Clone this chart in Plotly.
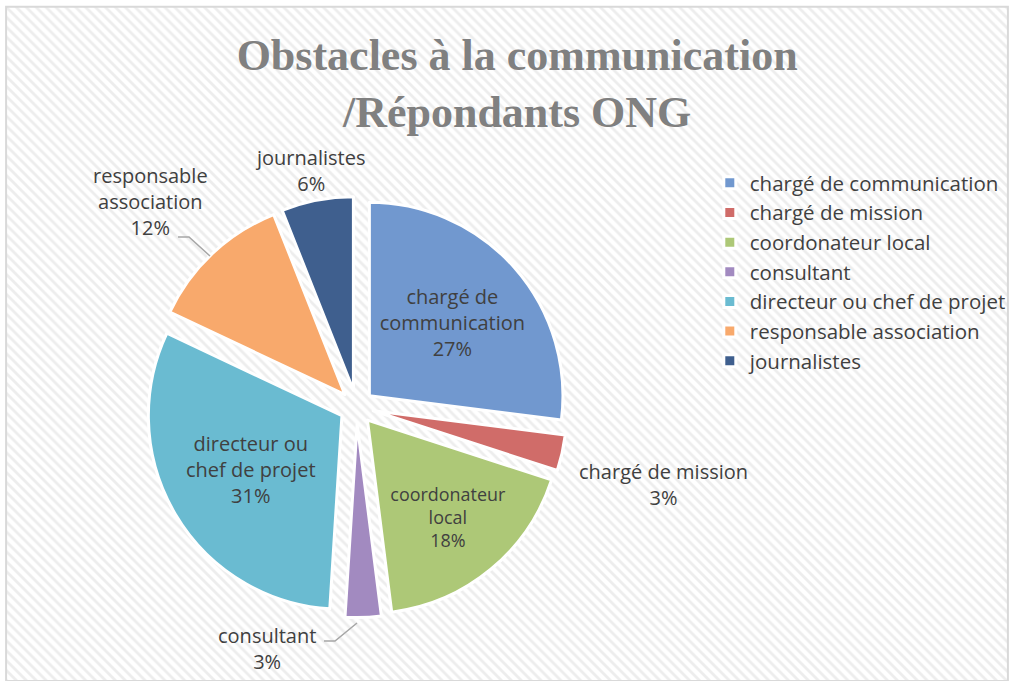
import plotly.graph_objects as go

# ---- data ----
categories = ["chargé de communication", "chargé de mission", "coordonateur local",
              "consultant", "directeur ou chef de projet", "responsable association",
              "journalistes"]
display_labels = ["chargé de<br>communication", "chargé de mission", "coordonateur<br>local",
                  "consultant", "directeur ou<br>chef de projet", "responsable<br>association",
                  "journalistes"]
values = [27, 3, 18, 3, 31, 12, 6]
title_text = "Obstacles à la communication<br>/Répondants ONG"

# ---- styles ----
colors = ["#7198cf", "#d06c69", "#adc877", "#a28ac0", "#6abbd1", "#f8a96c", "#3f5f8e"]
text_positions = ["inside", "none", "inside", "none", "inside", "none", "none"]
# outside label placement (pixels from top-left) for the small slices, like the original
outside_label_px = {1: (663, 484), 3: (267, 648), 5: (150, 201), 6: (310, 171)}
leader_lines_px = [
    [(178, 237), (189, 237), (210, 256)],   # responsable association
    [(324, 641), (335, 641), (357, 623)],   # consultant
]
W, H = 1014, 681
TXT = "#404040"

fig = go.Figure()

# hatched background (decorative)
fig.add_trace(go.Bar(
    x=[0.5], y=[1], width=[1], showlegend=False, hoverinfo="skip",
    marker=dict(color="white", line=dict(width=0),
                pattern=dict(shape="\\", fgcolor="#dcdcdc", bgcolor="white",
                             size=7, solidity=0.4)),
    xaxis="x", yaxis="y"))

cx, cy, half = 356.6, 407.0, 210.6
fig.add_trace(go.Pie(
    labels=categories, values=values, text=display_labels,
    sort=False, direction="clockwise", rotation=0,
    pull=[0.088] * len(values),
    marker=dict(colors=colors, line=dict(color="white", width=3)),
    texttemplate="%{text}<br>%{percent:.0%}",
    textposition=text_positions,
    insidetextorientation="horizontal",
    textfont=dict(family="Open Sans", size=20, color=TXT),
    domain=dict(x=[(cx - half) / W, (cx + half) / W],
                y=[(H - cy - half) / H, (H - cy + half) / H]),
    hoverinfo="label+percent",
))

total = sum(values)
annotations = []
for i, (px, py) in outside_label_px.items():
    pct = round(values[i] / total * 100)
    annotations.append(dict(
        text=f"{display_labels[i]}<br>{pct}%", x=px / W, y=1 - py / H,
        xref="paper", yref="paper", xanchor="center", yanchor="middle",
        showarrow=False, align="center",
        font=dict(family="Open Sans", size=20, color=TXT)))

shapes = [dict(type="rect", xref="paper", yref="paper", x0=0.006, x1=0.994,
               y0=0, y1=0.99, line=dict(color="#d9d9d9", width=2), layer="above")]
for pts in leader_lines_px:
    path = "M " + " L ".join(f"{x / W},{1 - y / H}" for x, y in pts)
    shapes.append(dict(type="path", xref="paper", yref="paper", path=path,
                       line=dict(color="#a6a6a6", width=1.5), layer="above"))

fig.update_layout(
    width=W, height=H,
    margin=dict(l=0, r=0, t=0, b=0, autoexpand=False),
    paper_bgcolor="white", plot_bgcolor="white",
    xaxis=dict(range=[0, 1], visible=False, domain=[0.006, 0.994], fixedrange=True),
    yaxis=dict(range=[0, 1], visible=False, domain=[0, 0.99], fixedrange=True),
    bargap=0,
    title=dict(text=title_text, x=0.51, xanchor="center", y=1 - 70 / H, yanchor="middle",
               yref="container",
               font=dict(family="Liberation Serif", size=44, color="#808080", weight="bold")),
    legend=dict(x=0.70, y=1 - 163 / H, xanchor="left", yanchor="top",
                font=dict(family="Open Sans", size=20.5, color=TXT),
                bgcolor="rgba(0,0,0,0)", traceorder="normal"),
    annotations=annotations,
    shapes=shapes,
)

fig.write_html("out.html",
               post_script="document.body.style.margin='0';document.body.style.overflow='hidden';",
               config={"displayModeBar": False})
